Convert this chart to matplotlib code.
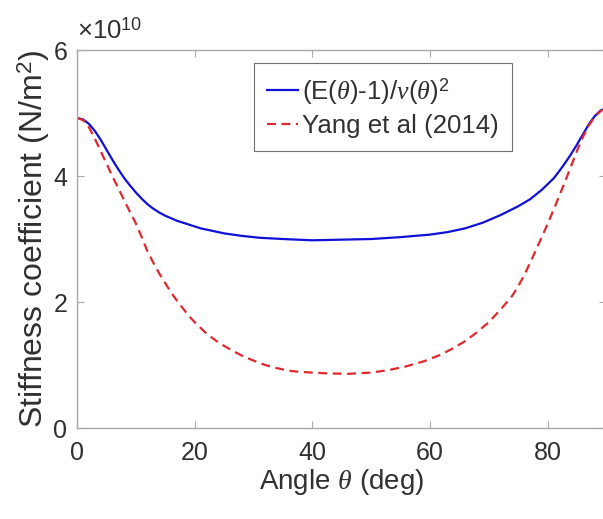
import matplotlib
matplotlib.use("Agg")
import matplotlib.pyplot as plt

# Valores (rigidez en unidades de 1e10 N/m^2)
theta_azul = [0, 1, 2, 3, 4, 5, 6, 7, 8, 9, 10, 11, 12, 13, 14, 15, 17, 19, 21,
              23, 25, 28, 31, 35, 40, 45, 50, 55, 60, 63, 66, 69, 72, 75, 77,
              79, 81, 82, 83, 84, 85, 86, 87, 88, 89, 90]
rigidez_azul = [4.92, 4.90, 4.83, 4.72, 4.58, 4.42, 4.26, 4.11, 3.97, 3.85, 3.74,
                3.64, 3.55, 3.48, 3.42, 3.37, 3.29, 3.23, 3.17, 3.13, 3.09, 3.05,
                3.02, 3.00, 2.98, 2.99, 3.00, 3.03, 3.07, 3.11, 3.17, 3.26, 3.38,
                3.52, 3.63, 3.78, 3.96, 4.08, 4.21, 4.35, 4.50, 4.66, 4.82, 4.95,
                5.04, 5.08]

theta_rojo = [0, 1, 2, 3, 4, 5, 6, 7, 8, 9, 10, 11, 12, 13, 14, 15, 16, 17, 18,
              19, 20, 22, 24, 26, 28, 30, 32, 34, 36, 38, 42, 46, 50, 53, 56, 59,
              62, 64, 66, 68, 70, 72, 74, 75, 76, 77, 78, 79, 80, 81, 82, 83, 84,
              85, 86, 87, 88, 89, 90]
rigidez_rojo = [4.92, 4.89, 4.78, 4.60, 4.40, 4.20, 4.00, 3.81, 3.62, 3.43, 3.25,
                3.03, 2.80, 2.62, 2.45, 2.30, 2.15, 2.02, 1.90, 1.78, 1.68, 1.50,
                1.36, 1.25, 1.15, 1.07, 1.00, 0.95, 0.91, 0.89, 0.87, 0.86, 0.88,
                0.92, 0.98, 1.06, 1.17, 1.27, 1.38, 1.52, 1.68, 1.88, 2.10, 2.25,
                2.42, 2.62, 2.82, 3.03, 3.24, 3.46, 3.69, 3.92, 4.16, 4.40, 4.62,
                4.80, 4.94, 5.03, 5.08]

etiquetas = [r"(E($\theta$)-1)/$\nu$($\theta$)$^2$", "Yang et al (2014)"]

plt.rcParams["font.family"] = "Liberation Sans"
plt.rcParams["mathtext.fontset"] = "custom"
plt.rcParams["mathtext.rm"] = "Liberation Sans"
plt.rcParams["mathtext.it"] = "Liberation Serif:italic"

gris_txt = "#303030"
gris_eje = "#a8a8a8"

fig = plt.figure(figsize=(6.03, 5.19), dpi=100)
ax = fig.add_axes([0.1277, 0.1753, 0.878, 0.7283])

ax.plot(theta_azul, rigidez_azul, color="#1010d8", lw=1.6, label=etiquetas[0])
ax.plot(theta_rojo, rigidez_rojo, color="#e0282e", lw=1.6, ls=(0, (4, 2.5)),
        label=etiquetas[1])

ax.set_xlim(0, 90)
ax.set_ylim(0, 6)
ax.set_xticks([0, 20, 40, 60, 80])
ax.set_yticks([0, 2, 4, 6])

for s in ax.spines.values():
    s.set_color(gris_eje)
    s.set_linewidth(1.0)
ax.tick_params(direction="in", length=5, width=0.8, color=gris_eje,
               labelsize=18, labelcolor=gris_txt, top=True, right=True)
ax.tick_params(axis="x", pad=9)
ax.tick_params(axis="y", pad=7)

ax.set_xlabel(r"Angle $\theta$ (deg)", fontsize=20, color=gris_txt, labelpad=2)
ax.set_ylabel(r"Stiffness coefficient (N/m$^2$)", fontsize=23, color=gris_txt)
ax.yaxis.set_label_coords(-0.047, 0.5)

# multiplicador del eje y
ax.text(0.0, 1.018, r"$\times$10$^{10}$", transform=ax.transAxes, fontsize=18.5,
        color=gris_txt, ha="left", va="bottom")

leg = ax.legend(loc="upper left", bbox_to_anchor=(0.335, 0.966), borderaxespad=0,
                fontsize=18.6, frameon=True, fancybox=False, framealpha=1,
                handlelength=1.2, handletextpad=0.15, labelspacing=0.3,
                borderpad=0.5)
leg.get_frame().set_edgecolor("#707070")
leg.get_frame().set_linewidth(0.8)
for t in leg.get_texts():
    t.set_color(gris_txt)

fig.savefig("out.png", dpi=100)
